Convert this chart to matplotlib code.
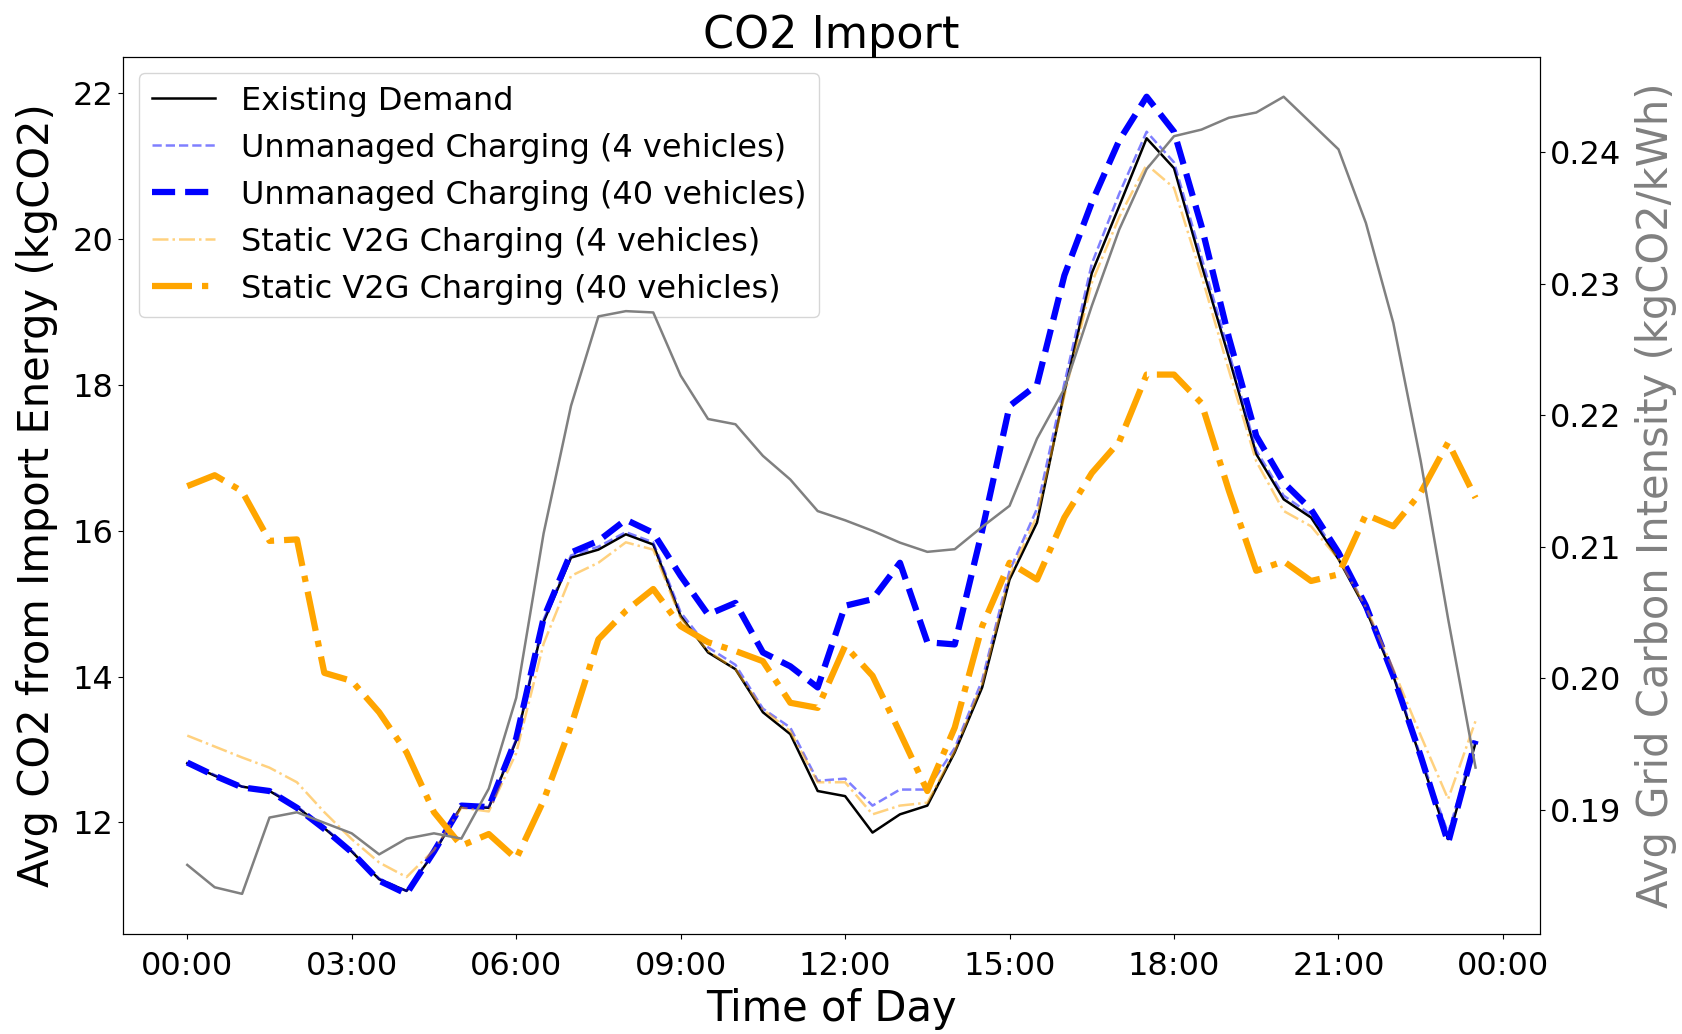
import matplotlib
matplotlib.use("Agg")
import matplotlib.pyplot as plt
from matplotlib.ticker import FixedLocator, FuncFormatter
import numpy as np

# half-hourly time of day, in hours
hours = np.arange(0, 24, 0.5)

existing = [12.81, 12.64, 12.49, 12.43, 12.21, 11.92, 11.60, 11.22, 11.06, 11.58,
            12.22, 12.20, 13.12, 14.75, 15.63, 15.74, 15.95, 15.81, 14.83, 14.33,
            14.10, 13.51, 13.21, 12.43, 12.36, 11.86, 12.11, 12.23, 12.96, 13.85,
            15.33, 16.11, 17.90, 19.53, 20.45, 21.38, 20.97, 19.65, 18.38, 17.05,
            16.43, 16.18, 15.61, 14.92, 14.01, 12.87, 11.77, 13.09]

unmanaged_4 = [12.82, 12.65, 12.49, 12.44, 12.22, 11.93, 11.61, 11.23, 11.06, 11.59,
               12.23, 12.21, 13.14, 14.78, 15.66, 15.78, 15.98, 15.84, 14.88, 14.40,
               14.16, 13.56, 13.30, 12.57, 12.60, 12.23, 12.45, 12.45, 13.02, 13.95,
               15.45, 16.30, 18.02, 19.66, 20.62, 21.47, 21.05, 19.75, 18.45, 17.10,
               16.48, 16.22, 15.65, 14.95, 14.03, 12.90, 11.85, 13.12]

unmanaged_40 = [12.82, 12.64, 12.48, 12.43, 12.20, 11.91, 11.59, 11.20, 11.02, 11.60,
                12.23, 12.21, 13.15, 14.80, 15.70, 15.86, 16.15, 15.97, 15.38, 14.85,
                15.01, 14.33, 14.14, 13.85, 14.97, 15.06, 15.56, 14.47, 14.44, 16.00,
                17.71, 18.00, 19.50, 20.50, 21.35, 21.95, 21.47, 20.18, 18.65, 17.30,
                16.66, 16.29, 15.70, 14.97, 14.01, 12.91, 11.72, 13.12]

static_4 = [13.19, 13.04, 12.89, 12.75, 12.55, 12.14, 11.77, 11.45, 11.25, 11.62,
            12.20, 12.15, 12.95, 14.45, 15.38, 15.56, 15.84, 15.74, 14.80, 14.35,
            14.10, 13.55, 13.25, 12.55, 12.55, 12.11, 12.23, 12.27, 12.98, 13.90,
            15.38, 16.20, 17.85, 19.40, 20.30, 21.02, 20.70, 19.50, 18.20, 16.95,
            16.27, 16.06, 15.61, 14.95, 14.10, 13.19, 12.32, 13.39]

static_40 = [16.61, 16.76, 16.54, 15.86, 15.88, 14.05, 13.94, 13.51, 12.96, 12.14,
             11.68, 11.84, 11.50, 12.30, 13.32, 14.51, 14.90, 15.20, 14.69, 14.47,
             14.35, 14.21, 13.64, 13.57, 14.42, 14.01, 13.23, 12.43, 13.30, 14.69,
             15.56, 15.33, 16.18, 16.79, 17.22, 18.14, 18.14, 17.75, 16.55, 15.45,
             15.58, 15.31, 15.40, 16.22, 16.06, 16.52, 17.21, 16.45]

# average grid carbon intensity (kgCO2/kWh)
carbon = [0.1858, 0.1841, 0.1836, 0.1894, 0.1898, 0.1890, 0.1882, 0.1866, 0.1878, 0.1882,
          0.1878, 0.1916, 0.1985, 0.2110, 0.2207, 0.2275, 0.2279, 0.2278, 0.2230, 0.2197,
          0.2193, 0.2169, 0.2151, 0.2127, 0.2120, 0.2112, 0.2103, 0.2096, 0.2098, 0.2115,
          0.2131, 0.2182, 0.2220, 0.2283, 0.2341, 0.2387, 0.2412, 0.2417, 0.2426, 0.2430,
          0.2442, 0.2422, 0.2402, 0.2346, 0.2270, 0.2165, 0.2045, 0.1932]

tick_hours = [0, 3, 6, 9, 12, 15, 18, 21, 24]

fig, ax = plt.subplots(figsize=(16.83, 10.34), dpi=100)
fig.subplots_adjust(left=0.073, right=0.915, top=0.945, bottom=0.097)

ax.plot(hours, existing, color='black', lw=1.8, label='Existing Demand')
ax.plot(hours, unmanaged_4, color='blue', alpha=0.5, ls='--', lw=1.8,
        label='Unmanaged Charging (4 vehicles)')
ax.plot(hours, unmanaged_40, color='blue', ls='--', lw=4.5,
        label='Unmanaged Charging (40 vehicles)')
ax.plot(hours, static_4, color='orange', alpha=0.5, ls='-.', lw=1.8,
        label='Static V2G Charging (4 vehicles)')
ax.plot(hours, static_40, color='orange', ls='-.', lw=4.5,
        label='Static V2G Charging (40 vehicles)')

ax.xaxis.set_major_locator(FixedLocator(tick_hours))
ax.xaxis.set_major_formatter(FuncFormatter(lambda h, pos: f"{int(h) % 24:02d}:00"))
ax.tick_params(labelsize=23)
ax.tick_params(axis='x', pad=9)
ax.set_xlabel('Time of Day', fontsize=30, labelpad=4)
ax.set_ylabel('Avg CO2 from Import Energy (kgCO2)', fontsize=30, labelpad=10)
ax.set_title('CO2 Import', fontsize=32)
ax.legend(loc='upper left', fontsize=23)

ax2 = ax.twinx()
ax2.plot(hours, carbon, color='grey', lw=1.8)
ax2.set_ylabel('Avg Grid Carbon Intensity (kgCO2/kWh)', fontsize=30, color='grey',
               labelpad=10)
ax2.tick_params(labelsize=23)

fig.savefig('out.png', dpi=100)
